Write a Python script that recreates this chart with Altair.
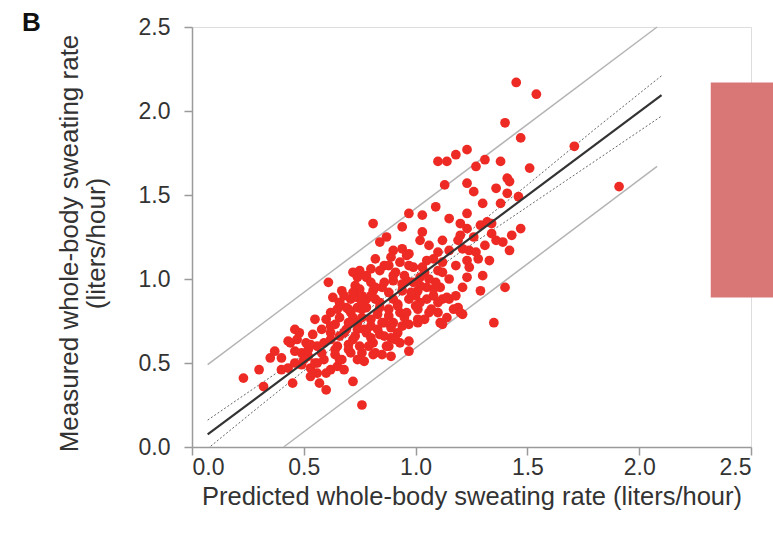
import altair as alt
import pandas as pd

# Scatter points: predicted (x) vs measured (y) whole-body sweating rate (L/h)
pred = [1.45, 1.54, 1.40, 1.47, 1.71, 1.91, 1.23, 1.18, 1.10, 1.14, 1.31, 1.27, 1.38, 1.51, 1.41,
        1.13, 1.23, 1.26, 1.36, 1.41, 1.46, 1.09, 1.30, 1.38, 1.42, 1.47, 1.43, 1.42, 1.36, 1.39,
        1.34, 1.34, 1.40, 0.97, 1.03, 1.23, 1.15, 1.20, 1.23, 1.29, 1.32, 0.81, 0.94, 1.03, 1.02,
        1.12, 0.84, 0.87, 1.19, 1.20, 1.26, 1.31, 1.21, 1.24, 1.27, 1.10, 1.23, 1.30, 1.23, 1.21,
        1.15, 1.10, 1.19, 1.21, 1.35, 1.11, 1.12, 1.06, 1.01, 0.97, 0.97, 0.97, 0.93, 0.89, 0.85,
        0.81, 0.76, 0.90, 0.85, 0.80, 0.78, 0.84, 0.89, 0.92, 0.81, 0.87, 0.76, 0.23, 0.32, 0.37,
        0.44, 0.48, 0.54, 0.43, 0.45, 0.49, 0.52, 0.56, 0.59, 0.62, 0.65, 0.68, 0.62, 0.49, 0.53,
        0.56, 0.59, 0.62, 0.65, 0.68, 0.66, 0.57, 0.60, 0.56, 0.53, 0.72, 0.60, 0.62, 0.66, 0.71,
        0.74, 0.76, 0.69, 0.72, 0.71, 0.75, 0.51, 0.75, 0.74, 0.78, 0.61, 0.67, 0.63, 0.66, 0.71,
        0.74, 0.76, 0.78, 0.65, 0.69, 0.74, 0.76, 0.46, 0.43, 1.17, 1.20, 1.01, 1.12, 0.90, 0.94,
        0.97, 0.93, 0.99, 1.05, 1.08, 1.03, 1.10, 1.12, 1.02, 0.96, 0.90, 0.85, 0.81, 0.78, 0.94,
        1.01, 1.05, 1.11, 1.14, 1.05, 0.97, 0.90, 0.84, 0.78, 1.01, 0.93, 0.86, 0.82, 0.91, 0.88,
        0.92, 0.83, 0.72, 0.68, 0.73, 0.80, 0.99, 1.08, 1.02, 0.95, 0.89, 0.80, 0.74, 0.64, 0.58,
        0.55, 0.70, 0.77, 0.64, 1.18, 1.15, 1.06, 1.15, 1.09, 1.04, 0.97, 0.84, 0.72, 0.53, 0.40,
        0.47, 1.24, 1.28, 1.33, 1.29, 1.18, 0.46, 0.35, 0.30, 1.00, 1.04, 0.91, 0.75, 0.82, 0.88,
        1.07, 1.14, 0.95, 0.89,
        0.62, 0.66, 0.70, 0.73, 0.77, 0.80, 0.83, 0.86, 0.88, 0.84, 0.80, 0.76, 0.72, 0.70, 0.66,
        0.82, 0.86, 0.90, 0.94, 0.98, 1.02, 1.06, 0.92, 0.96, 1.00, 0.94, 0.86, 0.79, 0.70, 0.64,
        0.58, 0.55, 0.60, 0.67, 0.74, 0.82, 0.88, 1.08, 1.12, 0.96, 0.88, 0.80, 1.10, 0.52, 0.50,
        0.46, 0.40]
meas = [2.17, 2.10, 1.93, 1.84, 1.79, 1.55, 1.77, 1.74, 1.70, 1.70, 1.71, 1.67, 1.70, 1.66, 1.60,
        1.56, 1.57, 1.52, 1.54, 1.51, 1.49, 1.43, 1.45, 1.45, 1.58, 1.30, 1.26, 1.17, 1.23, 1.22,
        1.33, 1.27, 0.95, 1.39, 1.38, 1.39, 1.36, 1.33, 1.30, 1.32, 1.34, 1.33, 1.31, 1.28, 1.23,
        1.23, 1.22, 1.25, 1.23, 1.26, 1.25, 1.20, 1.18, 1.17, 1.16, 1.16, 1.11, 1.02, 1.01, 0.95,
        0.88, 0.80, 0.83, 0.79, 0.74, 0.74, 0.73, 0.80, 0.76, 0.73, 0.57, 0.63, 0.62, 0.54, 0.55,
        0.55, 0.56, 0.74, 0.74, 0.76, 0.68, 0.67, 0.65, 0.68, 0.62, 0.60, 0.25, 0.41, 0.36, 0.57,
        0.62, 0.68, 0.67, 0.47, 0.38, 0.56, 0.54, 0.60, 0.62, 0.64, 0.60, 0.68, 0.68, 0.49, 0.47,
        0.50, 0.52, 0.46, 0.48, 0.46, 0.52, 0.38, 0.34, 0.44, 0.42, 0.39, 0.76, 0.80, 0.77, 0.80,
        0.74, 0.77, 0.70, 0.64, 0.56, 0.60, 0.62, 1.05, 1.01, 1.02, 0.98, 0.93, 0.89, 0.86, 0.88,
        0.89, 0.90, 0.88, 0.82, 0.83, 0.83, 0.82, 0.57, 0.63, 0.82, 0.80, 0.74, 0.88, 1.17, 1.18,
        1.15, 1.10, 1.07, 1.11, 1.12, 1.07, 1.05, 1.04, 1.01, 0.99, 0.99, 0.95, 0.93, 1.01, 0.93,
        0.93, 0.95, 0.95, 0.89, 0.88, 0.88, 0.88, 0.83, 0.83, 0.82, 0.80, 1.08, 1.12, 1.04, 0.92,
        0.85, 0.79, 0.77, 0.90, 0.96, 0.98, 0.98, 0.90, 0.86, 0.77, 0.71, 0.65, 0.70, 0.73, 0.70,
        0.76, 0.61, 0.51, 0.55, 1.08, 1.17, 1.20, 1.00, 0.98, 1.04, 1.08, 1.05, 1.04, 0.61, 0.53,
        0.64, 1.07, 1.12, 1.11, 0.93, 0.90, 0.70, 0.53, 0.46, 0.90, 0.76, 0.64, 0.94, 0.88, 0.82,
        0.82, 0.77, 1.02, 1.13,
        0.72, 0.66, 0.74, 0.66, 0.70, 0.72, 0.70, 0.74, 0.78, 0.86, 0.90, 0.86, 0.92, 0.82, 0.86,
        0.95, 0.98, 1.02, 0.97, 0.92, 0.96, 1.00, 0.84, 0.80, 0.84, 0.72, 0.66, 0.60, 0.58, 0.58,
        0.56, 0.50, 0.44, 0.52, 0.52, 0.56, 0.60, 0.94, 1.10, 1.14, 1.08, 1.06, 0.86, 0.58, 0.52,
        0.50, 0.46]

# Regression line
fit_x = [0.07, 2.10]
fit_y = [0.075, 2.094]

# 95% confidence band of the regression (dotted)
ci_x = [0.07, 0.3, 0.6, 0.9, 1.2, 1.5, 1.8, 2.1]
ci_upper = [0.16, 0.37, 0.64, 0.925, 1.24, 1.56, 1.89, 2.21]
ci_lower = [-0.01, 0.24, 0.56, 0.875, 1.16, 1.43, 1.70, 1.97]

# Prediction limits (light grey)
pi_up_x = [0.07, 2.08]
pi_up_y = [0.49, 2.50]
pi_lo_x = [0.41, 2.08]
pi_lo_y = [0.00, 1.67]

# Pink box on the right
box_x = [2.32]
box_x2 = [2.64]
box_y = [0.89]
box_y2 = [2.17]

FONT = "Liberation Sans"
ticks = [0, 0.5, 1.0, 1.5, 2.0, 2.5]

xscale = alt.Scale(domain=[0, 2.5], nice=False)
yscale = alt.Scale(domain=[0, 2.5], nice=False)

xaxis = alt.Axis(values=ticks, format=".1f", title="Predicted whole-body sweating rate (liters/hour)",
                 grid=False, domainColor="#9a9a9a", tickColor="#9a9a9a", tickSize=8, domainWidth=1.5,
                 tickWidth=1.5, labelFont=FONT, labelFontSize=23, labelColor="#333333", labelPadding=1,
                 titleFont=FONT, titleFontSize=25.5, titleFontWeight="normal", titleColor="#333333",
                 titlePadding=5)
yaxis = alt.Axis(values=ticks, format=".1f", title=["Measured whole-body sweating rate", "(liters/hour)"],
                 grid=False, domainColor="#9a9a9a", tickColor="#9a9a9a", tickSize=8, domainWidth=1.5,
                 tickWidth=1.5, labelFont=FONT, labelFontSize=23, labelColor="#333333", labelPadding=14,
                 titleFont=FONT, titleFontSize=26, titleFontWeight="normal", titleColor="#333333",
                 titlePadding=29, titleLineHeight=27, titleY=216)

pts = pd.DataFrame({"pred": pred, "meas": meas})
scatter = alt.Chart(pts).mark_circle(size=95, color="#EE2A24", opacity=1).encode(
    x=alt.X("pred:Q", scale=xscale, axis=xaxis),
    y=alt.Y("meas:Q", scale=yscale, axis=yaxis),
)

fit = alt.Chart(pd.DataFrame({"x": fit_x, "y": fit_y})).mark_line(color="#333333", strokeWidth=2.2).encode(
    x=alt.X("x:Q", scale=xscale), y=alt.Y("y:Q", scale=yscale))

ci_df = pd.DataFrame({"x": ci_x, "upper": ci_upper, "lower": ci_lower})
ci_u = alt.Chart(ci_df).mark_line(color="#666666", strokeWidth=1, strokeDash=[2, 2], clip=True).encode(
    x=alt.X("x:Q", scale=xscale), y=alt.Y("upper:Q", scale=yscale))
ci_l = alt.Chart(ci_df).mark_line(color="#666666", strokeWidth=1, strokeDash=[2, 2], clip=True).encode(
    x=alt.X("x:Q", scale=xscale), y=alt.Y("lower:Q", scale=yscale))

pi_u = alt.Chart(pd.DataFrame({"x": pi_up_x, "y": pi_up_y})).mark_line(color="#b4b4b4", strokeWidth=1.5).encode(
    x=alt.X("x:Q", scale=xscale), y=alt.Y("y:Q", scale=yscale))
pi_l = alt.Chart(pd.DataFrame({"x": pi_lo_x, "y": pi_lo_y})).mark_line(color="#b4b4b4", strokeWidth=1.5).encode(
    x=alt.X("x:Q", scale=xscale), y=alt.Y("y:Q", scale=yscale))

box = alt.Chart(pd.DataFrame({"x": box_x, "x2": box_x2, "y": box_y, "y2": box_y2})).mark_rect(
    color="#D97676", clip=False).encode(
    x=alt.X("x:Q", scale=xscale), x2="x2:Q", y=alt.Y("y:Q", scale=yscale), y2="y2:Q")

chart = alt.layer(pi_u, pi_l, ci_u, ci_l, scatter, fit, box).properties(
    width=559, height=420,
    autosize=alt.AutoSizeParams(type="none"),
    padding={"left": 192, "top": 27, "right": 22, "bottom": 87},
    title=alt.TitleParams("B", anchor="start", frame="group", font=FONT, fontSize=26, fontWeight="bold",
                          color="#111111", dx=-170, offset=-46, baseline="bottom"),
).configure_view(stroke=None).configure(background="white")

chart.save("out.html", embed_options={"renderer": "svg", "actions": False})
